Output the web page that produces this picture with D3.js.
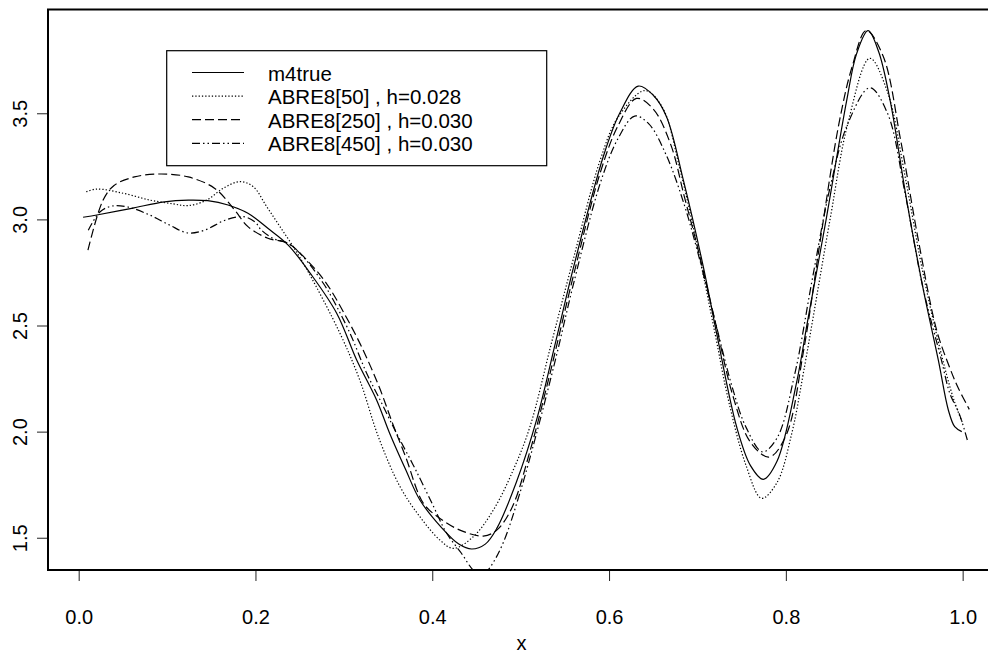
<!DOCTYPE html>
<html>
<head>
<meta charset="utf-8">
<script src="https://cdn.jsdelivr.net/npm/d3@7"></script>
<style>
    body { margin: 0; background: #fff; }
    svg { display: block; font-family: "Liberation Sans", Arial, Helvetica, sans-serif; }
    .tick line { stroke: #222; }
</style>
</head>
<body>
<svg id="chart" width="988" height="654"></svg>
<script>
// values
const trueX = [0.005, 0.022, 0.06, 0.097, 0.124, 0.146, 0.169, 0.1915, 0.214, 0.237, 0.262, 0.292, 0.3145, 0.337, 0.352, 0.37, 0.386, 0.41, 0.43, 0.4446, 0.46, 0.473, 0.495, 0.518, 0.54, 0.56, 0.5934, 0.612, 0.633, 0.65, 0.665, 0.684, 0.7066, 0.7217, 0.7443, 0.76, 0.7745, 0.79, 0.812, 0.825, 0.846, 0.8688, 0.88, 0.893, 0.905, 0.918, 0.9367, 0.955, 0.9725, 0.9838, 0.991, 0.999];
const trueY = [3.01, 3.022, 3.052, 3.083, 3.091, 3.088, 3.068, 3.029, 2.958, 2.879, 2.746, 2.557, 2.337, 2.149, 1.99, 1.82, 1.678, 1.55, 1.47, 1.447, 1.47, 1.544, 1.76, 2.055, 2.43, 2.777, 3.295, 3.5, 3.628, 3.585, 3.484, 3.186, 2.777, 2.463, 2.023, 1.84, 1.775, 1.86, 2.228, 2.53, 3.01, 3.56, 3.78, 3.889, 3.79, 3.56, 3.09, 2.68, 2.337, 2.102, 2.023, 2.0];

const abre50X = [0.0086, 0.0204, 0.0505, 0.0807, 0.107, 0.124, 0.1448, 0.1636, 0.1825, 0.1975, 0.2127, 0.2277, 0.2428, 0.26, 0.2956, 0.318, 0.339, 0.3636, 0.386, 0.4087, 0.4238, 0.4464, 0.469, 0.4916, 0.5105, 0.535, 0.56, 0.59, 0.61, 0.6406, 0.66, 0.68, 0.70, 0.72, 0.735, 0.755, 0.7726, 0.79, 0.8066, 0.82, 0.85, 0.87, 0.895, 0.915, 0.935, 0.955, 0.975, 0.99, 1.0];
const abre50Y = [3.13, 3.143, 3.123, 3.091, 3.073, 3.065, 3.091, 3.147, 3.178, 3.154, 3.06, 2.966, 2.871, 2.75, 2.463, 2.243, 1.976, 1.74, 1.599, 1.489, 1.45, 1.505, 1.63, 1.819, 2.023, 2.42, 2.82, 3.28, 3.48, 3.607, 3.53, 3.24, 2.87, 2.46, 2.149, 1.84, 1.686, 1.76, 1.99, 2.28, 3.0, 3.45, 3.759, 3.6, 3.2, 2.75, 2.38, 2.15, 2.04];

const abre250X = [0.0105, 0.0275, 0.04, 0.063, 0.093, 0.124, 0.154, 0.1765, 0.1915, 0.214, 0.237, 0.26, 0.28, 0.30, 0.32, 0.34, 0.355, 0.37, 0.39, 0.4087, 0.4313, 0.4577, 0.473, 0.49, 0.51, 0.53, 0.56, 0.59, 0.61, 0.631, 0.65, 0.67, 0.685, 0.70, 0.72, 0.74, 0.76, 0.781, 0.80, 0.82, 0.84, 0.86, 0.875, 0.891, 0.91, 0.93, 0.95, 0.9706, 0.9855, 0.9945, 1.0075];
const abre250Y = [2.855, 3.09, 3.16, 3.20, 3.214, 3.20, 3.146, 3.044, 2.966, 2.911, 2.887, 2.80, 2.70, 2.56, 2.40, 2.21, 2.04, 1.88, 1.662, 1.591, 1.536, 1.508, 1.536, 1.64, 1.90, 2.22, 2.74, 3.22, 3.44, 3.57, 3.52, 3.35, 3.11, 2.87, 2.52, 2.17, 1.95, 1.88, 1.98, 2.38, 2.93, 3.45, 3.72, 3.89, 3.77, 3.37, 2.9, 2.478, 2.30, 2.21, 2.105];

const abre450X = [0.0109, 0.024, 0.0378, 0.056, 0.0807, 0.103, 0.1236, 0.143, 0.1655, 0.186, 0.1995, 0.2066, 0.22, 0.237, 0.254, 0.2767, 0.288, 0.307, 0.3258, 0.341, 0.355, 0.3636, 0.38, 0.4, 0.4163, 0.433, 0.447, 0.457, 0.4653, 0.48, 0.499, 0.518, 0.54, 0.56, 0.59, 0.61, 0.629, 0.645, 0.665, 0.685, 0.70, 0.72, 0.74, 0.755, 0.7735, 0.79, 0.81, 0.83, 0.85, 0.87, 0.895, 0.915, 0.935, 0.955, 0.976, 0.9855, 0.996, 1.0056];
const abre450Y = [2.949, 3.035, 3.063, 3.058, 3.02, 2.973, 2.936, 2.95, 2.996, 3.013, 2.988, 2.95, 2.91, 2.887, 2.824, 2.699, 2.62, 2.463, 2.275, 2.149, 2.03, 1.96, 1.83, 1.66, 1.521, 1.427, 1.345, 1.325, 1.36, 1.474, 1.709, 1.992, 2.35, 2.7, 3.17, 3.38, 3.487, 3.45, 3.3, 3.07, 2.85, 2.52, 2.2, 2.02, 1.905, 1.97, 2.27, 2.72, 3.15, 3.45, 3.62, 3.5, 3.12, 2.68, 2.337, 2.18, 2.086, 1.956];

const xTicks = [0, 0.2, 0.4, 0.6, 0.8, 1.0];
const yTicks = [1.5, 2.0, 2.5, 3.0, 3.5];
const legendLabels = ['m4true', 'ABRE8[50] , h=0.028', 'ABRE8[250] , h=0.030', 'ABRE8[450] , h=0.030'];
const xLabel = 'x';

// line styles: solid, dotted, dashed, dash-dot-dot
const dashes = [null, '1.3,2', '9,4', '8,3,1.5,3,1.5,3'];

const series = [
    { x: trueX, y: trueY },
    { x: abre50X, y: abre50Y },
    { x: abre250X, y: abre250Y },
    { x: abre450X, y: abre450Y }
];

// plot region (right edge runs off the picture like the reference)
const plotLeft = 48, plotRight = 995, plotTop = 9.5, plotBottom = 570;

const scaleX = d3.scaleLinear().domain([-0.0347, 1.0366]).range([plotLeft, plotRight]);
const scaleY = d3.scaleLinear().domain([1.348, 3.989]).range([plotBottom, plotTop]);

const svg = d3.select('#chart');

svg.append('clipPath').attr('id', 'plotclip')
    .append('rect')
    .attr('x', plotLeft).attr('y', plotTop)
    .attr('width', plotRight - plotLeft).attr('height', plotBottom - plotTop);

// curves
const line = d3.line()
    .x((d) => { return scaleX(d[0]); })
    .y((d) => { return scaleY(d[1]); })
    .curve(d3.curveCatmullRom.alpha(0.5));

svg.append('g').attr('clip-path', 'url(#plotclip)')
    .selectAll('path').data(series)
    .enter().append('path')
    .attr('d', (s) => { return line(s.x.map((v, i) => [v, s.y[i]])); })
    .attr('fill', 'none')
    .attr('stroke', '#000')
    .attr('stroke-width', 1.2)
    .attr('stroke-dasharray', (s, i) => dashes[i]);

// x axis
const gx = svg.append('g')
    .attr('transform', 'translate(0,' + plotBottom + ')')
    .call(d3.axisBottom(scaleX).tickValues(xTicks).tickSize(11).tickPadding(29)
        .tickFormat(d3.format('.1f')));
gx.select('.domain').remove();
gx.selectAll('text').attr('font-size', 20).attr('fill', '#000');
gx.attr('font-family', null);

// y axis, labels turned like R does
const gy = svg.append('g')
    .attr('transform', 'translate(' + plotLeft + ',0)')
    .call(d3.axisLeft(scaleY).tickValues(yTicks).tickSize(11)
        .tickFormat(d3.format('.1f')));
gy.select('.domain').remove();
gy.attr('font-family', null);
gy.selectAll('text')
    .attr('x', null).attr('dy', null)
    .attr('text-anchor', 'middle')
    .attr('transform', 'translate(-21.3,0) rotate(-90)')
    .attr('font-size', 20).attr('fill', '#000');

// axis title
svg.append('text')
    .attr('x', (plotLeft + plotRight) / 2)
    .attr('y', 650)
    .attr('text-anchor', 'middle')
    .attr('font-size', 20)
    .text(xLabel);

// plot frame
svg.append('rect')
    .attr('x', plotLeft).attr('y', plotTop)
    .attr('width', plotRight - plotLeft).attr('height', plotBottom - plotTop)
    .attr('fill', 'none')
    .attr('stroke', '#000')
    .attr('stroke-width', 2);

// legend
const legend = svg.append('g');
legend.append('rect')
    .attr('x', 166.7).attr('y', 50.7)
    .attr('width', 380).attr('height', 115)
    .attr('fill', '#fff')
    .attr('stroke', '#000')
    .attr('stroke-width', 1.2);

const rows = legend.selectAll('.row').data(legendLabels)
    .enter().append('g')
    .attr('class', 'row')
    .attr('transform', (d, i) => 'translate(0,' + (72.5 + i * 23.6) + ')');

rows.append('line')
    .attr('x1', 192).attr('x2', 244)
    .attr('y1', 0).attr('y2', 0)
    .attr('stroke', '#000')
    .attr('stroke-width', 1.2)
    .attr('stroke-dasharray', (d, i) => dashes[i]);

rows.append('text')
    .attr('x', 268).attr('y', 8)
    .attr('font-size', 20.5)
    .text((d) => d);
</script>
</body>
</html>
